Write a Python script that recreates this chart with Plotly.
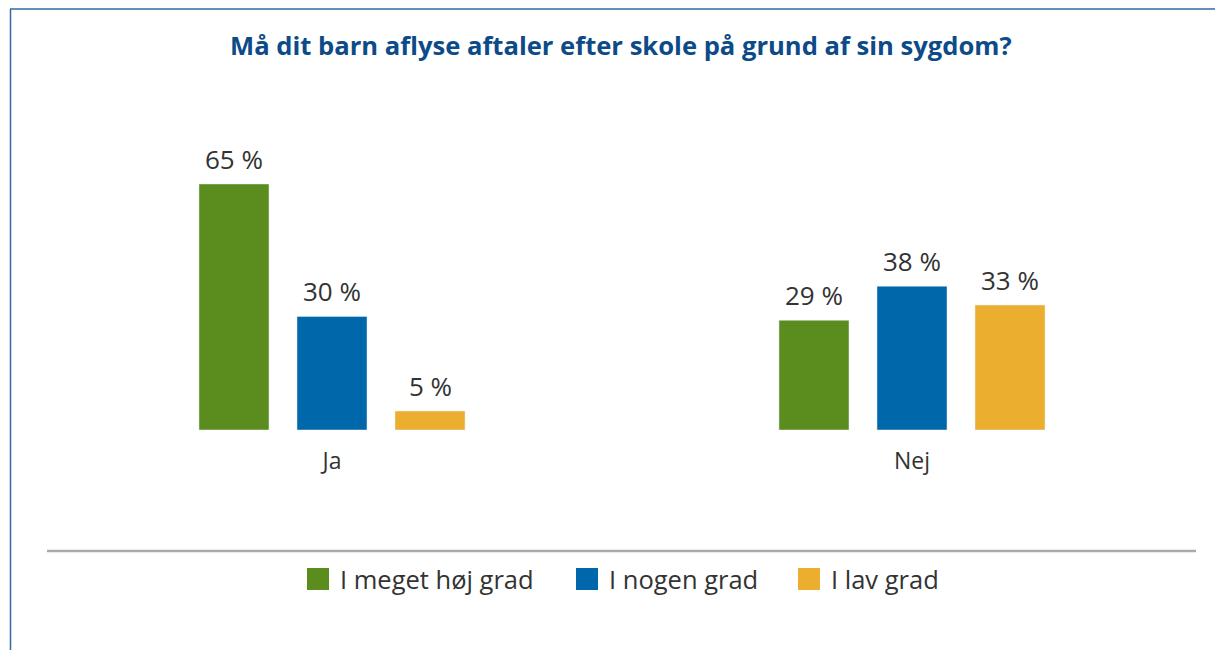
import plotly.graph_objects as go

categories = ["Ja", "Nej"]
series_names = ["I meget høj grad", "I nogen grad", "I lav grad"]
values_hoej = [65, 29]
values_nogen = [30, 38]
values_lav = [5, 33]
colors = ["#5b8c1e", "#0067aa", "#ebae2f"]
title_text = "Må dit barn aflyse aftaler efter skole på grund af sin sygdom?"

OFF = 8  # page body margin offset
W, H = 1223 - 2 * OFF, 658 - 2 * OFF
L, T = 42 - OFF, 120 - OFF
BASE = 430 - OFF
R = W - (1202 - OFF)
B = H - BASE
PW = W - L - R
PH = H - T - B
PX_PER_UNIT = 3.785


def px(x):
    return (x - OFF - L) / PW


def py(y):
    return (BASE - (y - OFF)) / PH


fig = go.Figure()
all_vals = [values_hoej, values_nogen, values_lav]
for name, vals, col in zip(series_names, all_vals, colors):
    fig.add_trace(go.Bar(
        x=categories, y=vals, name=name, marker_color=col,
        cliponaxis=False, showlegend=False, hoverinfo="skip",
    ))

shapes = [
    dict(type="line", xref="paper", yref="paper", x0=px(47), x1=px(1196), y0=py(551), y1=py(551),
         line=dict(color="#aaaaaa", width=2.5)),
    dict(type="line", xref="paper", yref="paper", x0=px(10.5), x1=px(10.5), y0=py(9), y1=py(W + OFF),
         line=dict(color="#3469a3", width=1.5)),
    dict(type="line", xref="paper", yref="paper", x0=px(10), x1=px(W + OFF), y0=py(9), y1=py(9),
         line=dict(color="#3469a3", width=1.5)),
]
annotations = [
    dict(text=f"<b>{title_text}</b>", xref="paper", yref="paper", x=px(621), y=py(45),
         showarrow=False, xanchor="center", yanchor="middle",
         font=dict(family="Open Sans", size=25.6, color="#0d4b88")),
]
# data labels above bars
for i, vals in enumerate(all_vals):
    for cat, v in zip(categories, vals):
        annotations.append(dict(
            text=f"{v} %", xref="x", yref="y", x=cat, y=v, xshift=(i - 1) * 98, yshift=25,
            showarrow=False, xanchor="center", yanchor="middle",
            font=dict(family="Open Sans", size=26, color="#333333")))

legend_x = [307, 576, 798]
for name, col, lx in zip(series_names, colors, legend_x):
    shapes.append(dict(type="rect", xref="paper", yref="paper", x0=px(lx), x1=px(lx + 22),
                       y0=py(568), y1=py(590), fillcolor=col, line=dict(width=0)))
    annotations.append(dict(text=name, xref="paper", yref="paper", x=px(lx + 31), y=py(579),
                            showarrow=False, xanchor="left", yanchor="middle",
                            font=dict(family="Open Sans", size=25.5, color="#333333")))

fig.update_layout(
    width=W, height=H, margin=dict(l=L, r=R, t=T, b=B),
    paper_bgcolor="white", plot_bgcolor="white",
    barmode="group", bargap=0.493, bargroupgap=0.2857,
    shapes=shapes, annotations=annotations, showlegend=False,
    xaxis=dict(showgrid=False, showline=False, zeroline=False, ticks="outside", ticklen=10,
               tickcolor="rgba(0,0,0,0)",
               tickfont=dict(family="Open Sans", size=23, color="#333333")),
    yaxis=dict(range=[0, PH / PX_PER_UNIT], visible=False, showgrid=False, zeroline=False),
)

fig.write_html("out.html", config={"displayModeBar": False})
